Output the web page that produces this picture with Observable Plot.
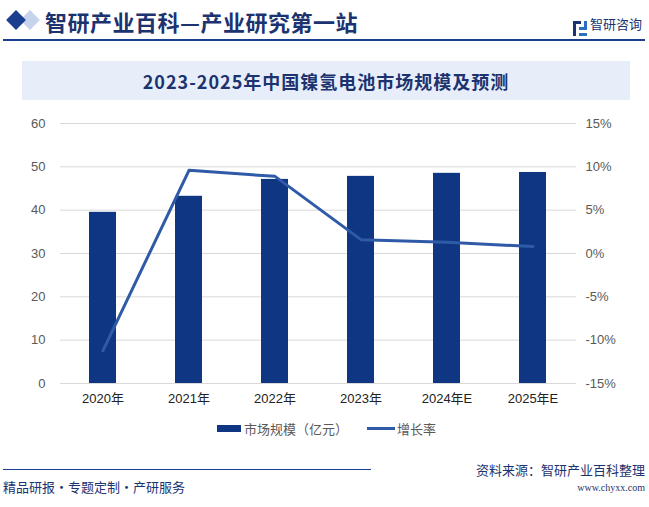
<!DOCTYPE html>
<html><head><meta charset="utf-8">
<script src="https://cdn.jsdelivr.net/npm/d3@7"></script>
<script src="https://cdn.jsdelivr.net/npm/@observablehq/plot@0.6"></script>
<style>
body{margin:0;background:#fff;font-family:"Noto Sans CJK SC","Liberation Sans",sans-serif;}
#wrap{position:relative;width:649px;height:507px;overflow:hidden;background:#fff;}
.abs{position:absolute;white-space:nowrap;}
</style></head>
<body><div id="wrap">
<div class="abs" style="left:23px;top:13px;width:14px;height:14px;background:#c5d3ec;transform:rotate(45deg);z-index:0"></div>
<div class="abs" style="left:9px;top:13px;width:14px;height:14px;background:#1a3f8f;transform:rotate(45deg);z-index:1"></div>
<div class="abs" style="left:45px;top:5px;font-size:22px;font-weight:bold;color:#1c3370;letter-spacing:0.5px;">智研产业百科—产业研究第一站</div>
<div class="abs" style="left:573px;top:17px;width:14px;height:15px;border:0;">
  <svg width="14" height="15"><rect x="0" y="0" width="8" height="3" fill="#1c3370"/><rect x="0" y="0" width="3" height="15" fill="#1c3370"/><rect x="6" y="6" width="8" height="3" fill="#2a6fc0"/><rect x="6" y="12" width="8" height="3" fill="#2a6fc0"/><rect x="11" y="0" width="3" height="9" fill="#2a6fc0"/></svg>
</div>
<div class="abs" style="left:590px;top:14px;font-size:13px;color:#1c3370;">智研咨询</div>
<div class="abs" style="left:3px;top:39px;width:642px;height:2px;background:#1a3f8f;"></div>
<div class="abs" style="left:22px;top:61px;width:608px;height:39px;background:#e8eef9;"></div>
<div class="abs" id="title" style="left:22px;top:68px;width:608px;text-align:center;font-size:18px;letter-spacing:1px;font-weight:bold;color:#1c3370;"></div>
<div id="chart" class="abs" style="left:0;top:110px;"></div>
<div class="abs" style="left:217px;top:425px;width:24px;height:7px;background:#0f3683;"></div>
<div class="abs" id="leg1" style="left:244px;top:419px;font-size:13px;color:#595959;"></div>
<div class="abs" style="left:367px;top:427px;width:28px;height:3px;background:#2f5aa8;"></div>
<div class="abs" id="leg2" style="left:397px;top:419px;font-size:13px;color:#595959;"></div>
<div class="abs" style="left:3px;top:469px;width:368px;height:1px;background:#1a3f8f;"></div>
<div class="abs" style="right:4px;top:460px;font-size:13px;color:#1c3370;">资料来源：智研产业百科整理</div>
<div class="abs" style="right:4px;top:482px;font-size:10px;color:#1c3370;font-family:'Liberation Serif',serif;">www.chyxx.com</div>
<div class="abs" style="left:3px;top:477px;font-size:13px;color:#1c3370;">精品研报·专题定制·产研服务</div>
</div>
<script>
const title = "2023-2025年中国镍氢电池市场规模及预测";
const years = ["2020年","2021年","2022年","2023年","2024年E","2025年E"];
const marketSize = [39.5, 43.2, 47.1, 47.8, 48.5, 48.7];
const growthRate = [-11.2, 9.6, 8.9, 1.6, 1.3, 0.8];
const leftTicks = [0,10,20,30,40,50,60];
const rightTicks = [-15,-10,-5,0,5,10,15];
const seriesNames = ["市场规模（亿元）","增长率"];

document.getElementById("title").textContent = title;
document.getElementById("leg1").textContent = seriesNames[0];
document.getElementById("leg2").textContent = seriesNames[1];

// map growth (%) onto left scale: -15..15 -> 0..60
const toLeft = g => (g + 15) * 2;
const data = years.map((y,i)=>({year:y, size:marketSize[i], growth:growthRate[i], gy: toLeft(growthRate[i])}));

const chart = Plot.plot({
  width: 649, height: 300,
  marginTop: 13, marginBottom: 27, marginLeft: 60, marginRight: 73,
  style: {fontFamily: "'Liberation Sans','Noto Sans CJK SC',sans-serif", fontSize: "13px", background: "transparent"},
  x: {domain: years, paddingInner: 0.686, paddingOuter: 0.343, label: null},
  y: {domain: [0, 60], label: null},
  marks: [
    Plot.gridY(leftTicks, {stroke: "#d9d9d9", strokeOpacity: 1}),
    Plot.axisY(leftTicks, {anchor: "left", tickSize: 0, tickPadding: 15, label: null, fill: "#595959", fontSize: 13}),
    Plot.axisY(rightTicks.map(toLeft), {anchor: "right", tickSize: 0, tickPadding: 9, label: null, fill: "#595959", fontSize: 13, tickFormat: d => (d/2 - 15) + "%"}),
    Plot.axisX({tickSize: 0, tickPadding: 10, label: null, fill: "#222", fontSize: 13}),
    Plot.barY(data, {x: "year", y: "size", fill: "#0f3683"}),
    Plot.lineY(data, {x: "year", y: "gy", stroke: "#2f5aa8", strokeWidth: 3, curve: "linear"})
  ]
});
document.getElementById("chart").appendChild(chart);
</script>
</body></html>
